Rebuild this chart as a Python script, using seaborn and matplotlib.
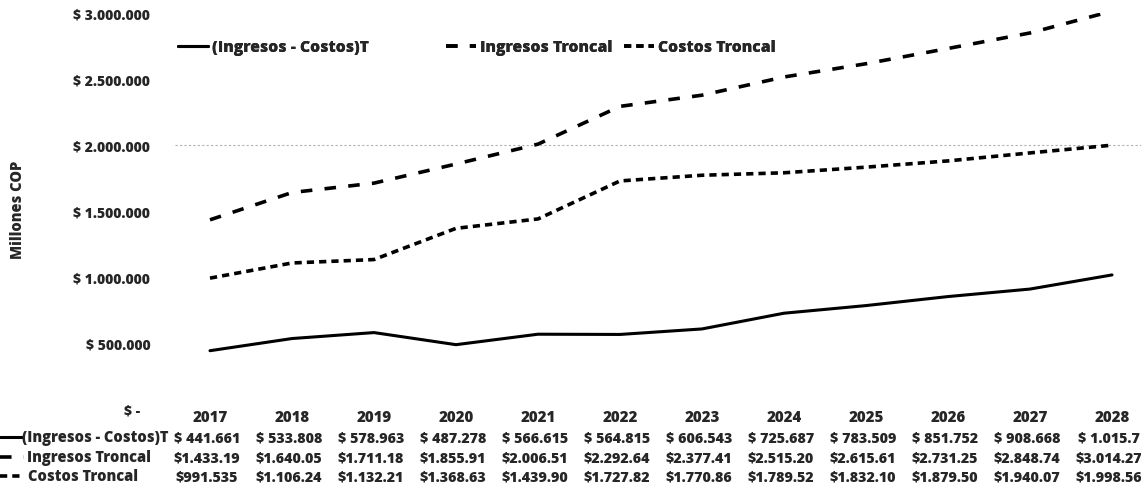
import matplotlib
matplotlib.use("Agg")
import matplotlib.pyplot as plt
from matplotlib.lines import Line2D
from matplotlib.transforms import offset_copy
import seaborn as sns
import pandas as pd

# Annual figures, millions of COP
years = [2017, 2018, 2019, 2020, 2021, 2022, 2023, 2024, 2025, 2026, 2027, 2028]
neto = [441661, 533808, 578963, 487278, 566615, 564815, 606543, 725687,
        783509, 851752, 908668, 1015710]
ingresos = [1433196, 1640050, 1711180, 1855910, 2006510, 2292640, 2377410,
            2515200, 2615610, 2731250, 2848740, 3014270]
costos = [991535, 1106240, 1132210, 1368630, 1439900, 1727820, 1770860,
          1789520, 1832100, 1879500, 1940070, 1998560]

series_names = ["(Ingresos - Costos)T", "Ingresos Troncal", "Costos Troncal"]
y_ticks = [0, 500000, 1000000, 1500000, 2000000, 2500000, 3000000]

sns.set_theme(style="white")
plt.rcParams["font.family"] = ["Open Sans", "DejaVu Sans"]
BOLD = 800

df = pd.DataFrame({
    "year": years * 3,
    "valor": neto + ingresos + costos,
    "serie": [series_names[0]] * len(years) + [series_names[1]] * len(years)
             + [series_names[2]] * len(years),
})

dash_styles = {series_names[0]: "", series_names[1]: (3.2, 3.4),
               series_names[2]: (2.0, 1.4)}
widths = {series_names[0]: 2.2, series_names[1]: 2.6, series_names[2]: 2.6}


def line_style(name):
    return "-" if dash_styles[name] == "" else (0, dash_styles[name])


W, H = 1141, 485
fig = plt.figure(figsize=(W / 100, H / 100), dpi=100)
ax = fig.add_axes([169 / W, 75 / H, 984 / W, 396 / H])

sns.lineplot(data=df, x="year", y="valor", hue="serie", style="serie",
             dashes=dash_styles, palette=["black"] * 3, ax=ax, legend=False,
             linewidth=2.4)
for line, name in zip(ax.get_lines(), series_names):
    line.set_linewidth(widths[name])
    line.set_dash_capstyle("butt")

ax.set_xlim(2016.5, 2028.5)
ax.set_ylim(0, 3000000)
for s in ax.spines.values():
    s.set_visible(False)

# faint gridline
ax.axhline(2000000, xmin=0.006, color="#b0b0b0", lw=0.8, ls=(0, (2, 2)),
           zorder=0)


def money(v, spaced=True):
    if v == 0:
        return "$ -"
    s = f"{v:,}".replace(",", ".")
    return ("$ " if spaced else "$") + s


ax.set_yticks(y_ticks)
ax.set_yticklabels([money(v) for v in y_ticks], fontsize=10, fontweight=BOLD)
ax.tick_params(axis="y", length=0, pad=13.5)
# accounting-style zero sits a little further right than the other amounts
ax.get_yticklabels()[0].set_x(-0.010)
ax.set_xticks([])
ax.set_xlabel("")
ax.set_ylabel("")
fig.text(18 / W, 1 - 210 / H, "Millones COP", rotation=90, fontsize=10.5,
         fontweight=BOLD, ha="center", va="center")

# legend at the top, one entry per anchor
legend_x = [178, 446, 624]
for name, lx in zip(series_names, legend_x):
    h = Line2D([], [], color="black", lw=widths[name], ls=line_style(name),
               dash_capstyle="butt")
    leg = fig.legend([h], [name], loc="center left",
                     bbox_to_anchor=(lx / W, 1 - 48 / H), frameon=False,
                     handlelength=1.9, handletextpad=0.25, borderaxespad=0,
                     borderpad=0, prop={"size": 11.3, "weight": BOLD})
    fig.add_artist(leg)

# data table beneath the axes
to_ax_y = lambda py: ((H - py) - 75) / 396
col_trans = ax.get_xaxis_transform()
val_trans = offset_copy(col_trans, fig=fig, x=-3, y=0, units="dots")
for x in years:
    ax.text(x, to_ax_y(418), str(x), transform=col_trans,
            ha="center", va="center", fontsize=10.8, fontweight=BOLD,
            clip_on=False)

rows = [(series_names[0], neto, True, 438, 22, 22),
        (series_names[1], ingresos, False, 458, 24, 27),
        (series_names[2], costos, False, 477, 24, 28)]
for name, vals, spaced, py, key_len, text_x in rows:
    for x, v in zip(years, vals):
        txt = money(v, spaced)[:9]
        ax.text(x, to_ax_y(py), txt, transform=val_trans,
                ha="center", va="center", fontsize=10.3, fontweight=BOLD,
                clip_on=False)
    fy = 1 - py / H
    fig.lines.append(Line2D([0, key_len / W], [fy, fy],
                            transform=fig.transFigure, color="black",
                            lw=widths[name], ls=line_style(name),
                            dash_capstyle="butt"))
    fig.text(text_x / W, fy, name, fontsize=10.5, fontweight=BOLD,
             ha="left", va="center")

fig.savefig("out.png", dpi=100)
